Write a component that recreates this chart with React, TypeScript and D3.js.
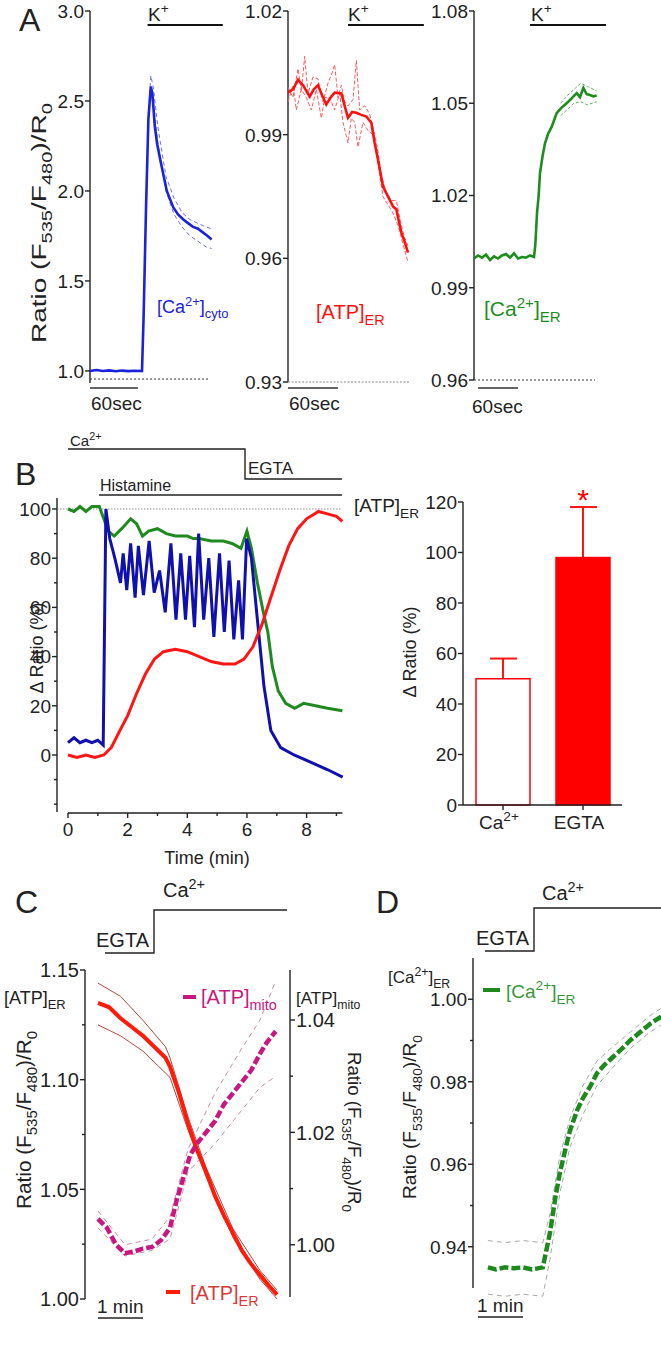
import React from 'react';
import * as d3 from 'd3';

type Pt = [number, number];

const FONT = '"Liberation Sans", Arial, sans-serif';

// ---------- A : K+ responses (time in s) ----------
const A1_TICKS = [1.0, 1.5, 2.0, 2.5, 3.0];
const A2_TICKS = [0.93, 0.96, 0.99, 1.02];
const A3_TICKS = [0.96, 0.99, 1.02, 1.05, 1.08];

const A_CYTO: Pt[] = [
  [0, 1.0], [8, 1.005], [16, 1.0], [24, 1.003], [32, 0.998], [40, 1.002], [48, 0.999], [56, 1.001],
  [65, 1.0], [67, 1.3], [70, 1.9], [73, 2.4], [76, 2.58], [78, 2.54], [81, 2.36], [84, 2.26],
  [88, 2.17], [96, 2.0], [104, 1.91], [110, 1.87], [117, 1.84], [123, 1.82], [129, 1.8],
  [135, 1.79], [141, 1.77], [147, 1.75], [152, 1.73],
];
const A_CYTO_HI: Pt[] = [
  [74, 2.5], [76, 2.64], [79, 2.58], [85, 2.35], [95, 2.08], [105, 1.96], [115, 1.88],
  [125, 1.84], [135, 1.82], [145, 1.8], [152, 1.79],
];
const A_CYTO_LO: Pt[] = [
  [76, 2.55], [80, 2.45], [85, 2.26], [95, 2.0], [105, 1.87], [115, 1.8], [125, 1.75],
  [135, 1.72], [145, 1.69], [152, 1.68],
];

const A_ATP: Pt[] = [
  [0, 1.0002], [6, 1.001], [12, 1.0033], [18, 1.002], [26, 0.9992], [31, 1.001], [36, 1.002],
  [41, 0.9995], [46, 0.9973], [51, 0.999], [56, 1.0002], [64, 1.0], [68, 0.997], [72, 0.9941],
  [77, 0.9955], [82, 0.9953], [88, 0.9948], [94, 0.9944], [100, 0.9929], [104, 0.988],
  [108, 0.984], [114, 0.9774], [120, 0.975], [126, 0.9726], [130, 0.9719], [133, 0.969],
  [136, 0.9663], [140, 0.964], [144, 0.9614],
];
const A_ATP_HI: Pt[] = [
  [0, 1.0015], [6, 0.999], [12, 1.006], [16, 1.0005], [20, 1.009], [24, 1.0], [30, 1.004],
  [36, 1.0035], [42, 0.998], [48, 1.0025], [52, 1.0045], [56, 1.007], [60, 0.999], [64, 1.002],
  [68, 0.998], [72, 0.997], [78, 0.9985], [82, 1.008], [86, 0.996], [92, 0.997], [98, 0.995],
  [104, 0.99], [108, 0.986], [112, 0.98], [118, 0.976], [124, 0.974], [130, 0.974],
  [136, 0.968], [140, 0.965], [144, 0.963],
];
const A_ATP_LO: Pt[] = [
  [0, 0.998], [6, 1.002], [10, 0.996], [16, 1.001], [22, 0.999], [28, 0.996], [34, 1.001],
  [40, 0.994], [44, 0.999], [50, 0.999], [56, 0.996], [62, 1.0], [66, 0.993], [72, 0.988],
  [76, 0.994], [80, 0.993], [84, 0.987], [90, 0.993], [96, 0.991], [102, 0.99], [108, 0.983],
  [114, 0.975], [120, 0.973], [126, 0.971], [132, 0.968], [136, 0.965], [140, 0.962], [144, 0.959],
];

const A_CAER: Pt[] = [
  [0, 0.9995], [6, 1.0005], [12, 0.9998], [18, 1.0008], [24, 0.999], [30, 1.0002], [36, 0.9995],
  [42, 1.0005], [48, 1.001], [54, 0.9998], [60, 1.0012], [66, 0.9995], [72, 1.0], [78, 0.9998],
  [84, 1.0005], [90, 1.0], [92, 1.004], [94.5, 1.0143], [97, 1.02], [99, 1.0273], [103, 1.033],
  [106.5, 1.037], [111, 1.04], [116.5, 1.0423], [124, 1.0468], [131, 1.0485], [139, 1.05],
  [146, 1.0515], [154, 1.0533], [159, 1.052], [164, 1.055], [169, 1.053], [174, 1.0527],
  [179, 1.0522], [184, 1.0525],
];
const A_CAER_HI: Pt[] = [[130, 1.05], [140, 1.0525], [150, 1.0545], [160, 1.0565], [170, 1.0555], [184, 1.054]];
const A_CAER_LO: Pt[] = [[130, 1.046], [140, 1.048], [150, 1.05], [160, 1.0505], [170, 1.0495], [184, 1.0505]];

// ---------- B : histamine / EGTA (time in min, %) ----------
const B_TIME_TICKS = [0, 2, 4, 6, 8];
const B_TIME_MINOR = [1, 3, 5, 7, 9];
const B_Y_TICKS = [0, 20, 40, 60, 80, 100];
const B_Y_MINOR = [-20, -10, 10, 30, 50, 70, 90];

const B_CAER: Pt[] = [
  [0, 100], [0.2, 99], [0.4, 101], [0.6, 99], [0.8, 101], [1.05, 101], [1.2, 96], [1.35, 91],
  [1.55, 89], [1.8, 92], [2.1, 96], [2.3, 94], [2.5, 89], [2.7, 91], [3.0, 92], [3.3, 90],
  [3.6, 89], [4.0, 89], [4.2, 88], [4.4, 88], [4.8, 87], [5.2, 87], [5.5, 86], [5.8, 84],
  [6.0, 91], [6.15, 84], [6.35, 70], [6.55, 58], [6.7, 50], [6.85, 36], [7.05, 26], [7.3, 21],
  [7.6, 19], [7.9, 21], [8.3, 20], [8.7, 19], [9.2, 18],
];
const B_CYTO: Pt[] = [
  [0, 5], [0.2, 7], [0.4, 5], [0.6, 6], [0.8, 5], [1.0, 6], [1.18, 4], [1.27, 100], [1.4, 88],
  [1.57, 80], [1.76, 70], [1.85, 82], [1.97, 67], [2.1, 86], [2.25, 64], [2.36, 85], [2.53, 65],
  [2.72, 87], [2.89, 66], [3.07, 75], [3.26, 58], [3.45, 86], [3.62, 55], [3.78, 82], [3.94, 55],
  [4.08, 81], [4.24, 52], [4.38, 90], [4.55, 55], [4.72, 80], [4.89, 48], [5.08, 82], [5.24, 50],
  [5.4, 79], [5.56, 47], [5.72, 71], [5.85, 47], [5.99, 88], [6.15, 80], [6.35, 55], [6.57, 28],
  [6.8, 10], [7.13, 3], [7.58, 0], [8.15, -3], [8.71, -6], [9.21, -9],
];
const B_ATP: Pt[] = [
  [0, 0], [0.3, -1], [0.6, 0], [0.9, -1], [1.2, 0], [1.45, 3], [1.7, 9], [2.0, 16], [2.3, 25],
  [2.6, 33], [2.9, 39], [3.2, 42], [3.6, 43], [4.0, 42], [4.4, 40], [4.8, 38], [5.2, 37],
  [5.6, 37], [5.9, 39], [6.2, 44], [6.5, 53], [6.8, 64], [7.1, 75], [7.4, 85], [7.7, 92],
  [8.0, 96], [8.4, 99], [8.7, 98], [9.0, 97], [9.2, 95],
];

const BAR_CATS = ['Ca2+', 'EGTA'];
const BAR_MEAN = [50, 98];
const BAR_SEM = [8, 20];
const BAR_TICKS = [0, 20, 40, 60, 80, 100, 120];

// ---------- C : ATP ER / mito (time in min) ----------
const C_LEFT_TICKS = [1.0, 1.05, 1.1, 1.15];
const C_LEFT_MINOR = [1.025, 1.075, 1.125];
const C_RIGHT_TICKS = [1.0, 1.02, 1.04];
const C_RIGHT_MINOR = [1.01, 1.03];

const C_ER: Pt[] = [
  [0, 1.135], [0.25, 1.133], [0.5, 1.128], [0.75, 1.124], [1.0, 1.12], [1.25, 1.115], [1.5, 1.11],
  [1.6, 1.106], [1.8, 1.094], [2.0, 1.08], [2.2, 1.068], [2.4, 1.058], [2.6, 1.047], [2.8, 1.038],
  [3.0, 1.03], [3.2, 1.022], [3.4, 1.016], [3.6, 1.011], [3.8, 1.006], [3.98, 1.002],
];
const C_ER_HI: Pt[] = [
  [0, 1.144], [0.5, 1.138], [1.0, 1.127], [1.5, 1.115], [1.6, 1.11], [2.0, 1.083], [2.4, 1.06],
  [3.0, 1.032], [3.6, 1.013], [3.98, 1.004],
];
const C_ER_LO: Pt[] = [
  [0, 1.125], [0.5, 1.12], [1.0, 1.113], [1.5, 1.103], [1.6, 1.101], [2.0, 1.077], [2.4, 1.056],
  [3.0, 1.028], [3.6, 1.009], [3.98, 1.0],
];
const C_MITO: Pt[] = [
  [0, 1.0046], [0.2, 1.003], [0.4, 1.0], [0.6, 0.9985], [0.8, 0.9988], [1.0, 0.9993], [1.2, 0.9996],
  [1.4, 1.0008], [1.6, 1.003], [1.75, 1.008], [1.9, 1.012], [2.05, 1.016], [2.2, 1.018], [2.4, 1.02],
  [2.6, 1.022], [2.8, 1.025], [3.0, 1.027], [3.2, 1.029], [3.4, 1.031], [3.6, 1.034], [3.75, 1.036],
  [3.95, 1.038],
];
const C_MITO_HI: Pt[] = [
  [0, 1.006], [0.6, 1.0], [1.2, 1.001], [1.6, 1.005], [2.0, 1.017], [2.6, 1.027], [3.2, 1.035],
  [3.6, 1.04], [3.95, 1.047],
];
const C_MITO_LO: Pt[] = [
  [0, 1.003], [0.6, 0.998], [1.2, 0.999], [1.6, 1.001], [2.0, 1.013], [2.6, 1.018], [3.2, 1.024],
  [3.6, 1.028], [3.95, 1.03],
];

// ---------- D : Ca ER refilling (time in min) ----------
const D_TICKS = [0.94, 0.96, 0.98, 1.0];
const D_MINOR = [0.95, 0.97, 0.99];
const D_CAER: Pt[] = [
  [0.22, 0.935], [0.4, 0.9345], [0.6, 0.935], [0.8, 0.9348], [1.0, 0.935], [1.2, 0.9345],
  [1.44, 0.935], [1.6, 0.9434], [1.72, 0.952], [1.82, 0.958], [1.95, 0.964], [2.04, 0.968],
  [2.2, 0.973], [2.33, 0.976], [2.5, 0.979], [2.64, 0.982], [2.8, 0.984], [3.0, 0.986],
  [3.2, 0.988], [3.38, 0.99], [3.6, 0.992], [3.82, 0.994], [4.1, 0.996],
];
const D_HI: Pt[] = [
  [0.22, 0.9415], [0.6, 0.941], [1.0, 0.9415], [1.44, 0.941], [1.6, 0.948], [1.82, 0.962],
  [2.04, 0.971], [2.33, 0.979], [2.64, 0.985], [3.0, 0.9885], [3.38, 0.992], [3.82, 0.996], [4.1, 0.998],
];
const D_LO: Pt[] = [
  [0.22, 0.9285], [0.6, 0.928], [1.0, 0.9285], [1.44, 0.928], [1.6, 0.937], [1.82, 0.953],
  [2.04, 0.964], [2.33, 0.972], [2.64, 0.979], [3.0, 0.9835], [3.38, 0.988], [3.82, 0.992], [4.1, 0.994],
];

// ---------- helpers ----------
type Part = string | { sub: string } | { sup: string };

function rich(parts: Part[], size: number) {
  let shift = 0;
  return parts.map((p, i) => {
    if (typeof p === 'string') {
      const el = <tspan key={i} dy={-shift} fontSize={size}>{p}</tspan>;
      shift = 0;
      return el;
    }
    const d = 'sub' in p ? size * 0.3 : -size * 0.4;
    const el = <tspan key={i} dy={d - shift} fontSize={size * 0.72}>{'sub' in p ? p.sub : p.sup}</tspan>;
    shift = d;
    return el;
  });
}

const RATIO: Part[] = ['Ratio (F', { sub: '535' }, '/F', { sub: '480' }, ')/R', { sub: '0' }];

// rotated axis title, stretched along its length like the source figure
function RatioLabel({ x, y, size, len, rot = -90 }: { x: number; y: number; size: number; len: number; rot?: number }) {
  return (
    <text transform={`translate(${x},${y}) rotate(${rot})`} textAnchor="middle" fontSize={size}
      textLength={len} lengthAdjust="spacingAndGlyphs">{rich(RATIO, size)}</text>
  );
}

function YAxis(props: {
  y: d3.ScaleLinear<number, number>; x: number; ticks: number[]; minor?: number[];
  fmt: (v: number) => string; side?: 'left' | 'right'; size?: number; extent?: [number, number];
}) {
  const { y, x, ticks, minor = [], fmt, side = 'left', size = 19 } = props;
  const [r0, r1] = props.extent ?? (y.range() as [number, number]);
  const dir = side === 'left' ? -1 : 1;
  return (
    <g stroke="#222" strokeWidth={1.4}>
      <line x1={x} x2={x} y1={r0} y2={r1} />
      {ticks.map(t => (
        <g key={t}>
          <line x1={x} x2={x + dir * 5} y1={y(t)} y2={y(t)} />
          <text x={x + dir * 6} y={y(t)} dy="0.36em" stroke="none" fill="#222" fontSize={size}
            textAnchor={side === 'left' ? 'end' : 'start'}>{fmt(t)}</text>
        </g>
      ))}
      {minor.map(t => <line key={'m' + t} x1={x} x2={x + dir * 3} y1={y(t)} y2={y(t)} />)}
    </g>
  );
}

function mkLine(x: d3.ScaleLinear<number, number>, y: d3.ScaleLinear<number, number>) {
  return d3.line<Pt>().x(d => x(d[0])).y(d => y(d[1]));
}

const f1 = d3.format('.1f');
const f2 = d3.format('.2f');
const f0 = d3.format('d');

export default function App() {
  // A1
  const xA1 = d3.scaleLinear().domain([0, 60]).range([90, 138]);
  const yA1 = d3.scaleLinear().domain([0.933, 3.0]).range([383, 11]);
  const lA1 = mkLine(xA1, yA1);
  // A2
  const xA2 = d3.scaleLinear().domain([0, 60]).range([288, 338]);
  const yA2 = d3.scaleLinear().domain([0.93, 1.02]).range([382, 11]);
  const lA2 = mkLine(xA2, yA2);
  // A3
  const xA3 = d3.scaleLinear().domain([0, 60]).range([474, 514]);
  const yA3 = d3.scaleLinear().domain([0.96, 1.08]).range([380, 11]);
  const lA3 = mkLine(xA3, yA3);
  // B traces
  const xB = d3.scaleLinear().domain([0, 9.2]).range([68, 342.4]);
  const yB = d3.scaleLinear().domain([0, 100]).range([755, 509]);
  const lB = mkLine(xB, yB);
  // B bars
  const xBar = d3.scaleBand<string>().domain(BAR_CATS).range([463, 623]).paddingInner(0.325).paddingOuter(0.1625);
  const yBar = d3.scaleLinear().domain([0, 120]).range([805, 502]);
  // C
  const xC = d3.scaleLinear().domain([0, 1]).range([98, 143]);
  const yCL = d3.scaleLinear().domain([1.0, 1.15]).range([1299, 970]);
  const yCR = d3.scaleLinear().domain([0.9907, 1.0489]).range([1297, 970]);
  const lCL = mkLine(xC, yCL);
  const lCR = mkLine(xC, yCR);
  // D
  const xD = d3.scaleLinear().domain([0, 1]).range([478, 523]);
  const yD = d3.scaleLinear().domain([0.93, 1.01]).range([1288, 958]);
  const lD = mkLine(xD, yD);

  const blueA = '#1b22dc';
  const redA = '#ff1010';
  const greenA = '#1f8c1f';
  const blueB = '#1010b0';
  const greenB = '#208a20';
  const redB = '#ff1515';
  const mag = '#c8177e';

  return (
    <svg width={661} height={1362} style={{ position: 'absolute', left: 0, top: 0, background: '#fff' }}
      fontFamily={FONT} fill="#222">
      {/* ================= A ================= */}
      <text x={19} y={31} fontSize={32}>A</text>
      <RatioLabel x={46} y={223} size={21} len={240} />

      {/* A1 */}
      <YAxis y={yA1} x={90} ticks={A1_TICKS} fmt={f1} />
      <line x1={90} x2={210} y1={yA1(0.955)} y2={yA1(0.955)} stroke="#333" strokeDasharray="2 2" />
      <line x1={xA1(72)} x2={xA1(166)} y1={25} y2={25} stroke="#111" strokeWidth={2} />
      <text x={148} y={21} fontSize={19}>{rich(['K', { sup: '+' }], 19)}</text>
      <line x1={xA1(0)} x2={xA1(60)} y1={388} y2={388} stroke="#333" strokeWidth={1.5} />
      <text x={91} y={410} fontSize={19}>60sec</text>
      <path d={lA1(A_CYTO_HI)!} fill="none" stroke="#7070e6" strokeWidth={1} strokeDasharray="4 3" />
      <path d={lA1(A_CYTO_LO)!} fill="none" stroke="#7070e6" strokeWidth={1} strokeDasharray="4 3" />
      <path d={lA1(A_CYTO)!} fill="none" stroke={blueA} strokeWidth={2.6} />
      <text x={157} y={313} fontSize={18} fill={blueA}>{rich(['[Ca', { sup: '2+' }, ']', { sub: 'cyto' }], 18)}</text>

      {/* A2 */}
      <YAxis y={yA2} x={288} ticks={A2_TICKS} fmt={f2} />
      <line x1={288} x2={410} y1={yA2(0.93)} y2={yA2(0.93)} stroke="#888" strokeDasharray="2 1.5" />
      <line x1={xA2(72)} x2={xA2(163)} y1={25} y2={25} stroke="#111" strokeWidth={2} />
      <text x={348} y={21} fontSize={19}>{rich(['K', { sup: '+' }], 19)}</text>
      <line x1={xA2(0)} x2={xA2(60)} y1={388} y2={388} stroke="#333" strokeWidth={1.5} />
      <text x={289} y={410} fontSize={19}>60sec</text>
      <path d={lA2(A_ATP_HI)!} fill="none" stroke="#ff5a5a" strokeWidth={1} strokeDasharray="4 2" />
      <path d={lA2(A_ATP_LO)!} fill="none" stroke="#ff5a5a" strokeWidth={1} strokeDasharray="4 2" />
      <path d={lA2(A_ATP)!} fill="none" stroke={redA} strokeWidth={2.6} />
      <text x={316} y={319} fontSize={20} fill={redA}>{rich(['[ATP]', { sub: 'ER' }], 20)}</text>

      {/* A3 */}
      <YAxis y={yA3} x={474} ticks={A3_TICKS} fmt={f2} />
      <line x1={474} x2={595} y1={yA3(0.96)} y2={yA3(0.96)} stroke="#333" strokeDasharray="2 2" />
      <line x1={xA3(84)} x2={xA3(198)} y1={25} y2={25} stroke="#111" strokeWidth={2} />
      <text x={531} y={21} fontSize={19}>{rich(['K', { sup: '+' }], 19)}</text>
      <line x1={478} x2={518} y1={388} y2={388} stroke="#333" strokeWidth={1.5} />
      <text x={472} y={413} fontSize={19}>60sec</text>
      <path d={lA3(A_CAER_HI)!} fill="none" stroke="#5fb05f" strokeWidth={1} strokeDasharray="3 2" />
      <path d={lA3(A_CAER_LO)!} fill="none" stroke="#5fb05f" strokeWidth={1} strokeDasharray="3 2" />
      <path d={lA3(A_CAER)!} fill="none" stroke={greenA} strokeWidth={2.6} />
      <text x={484} y={316} fontSize={21} fill={greenA}>{rich(['[Ca', { sup: '2+' }, ']', { sub: 'ER' }], 21)}</text>

      {/* ================= B ================= */}
      <text x={15} y={485} fontSize={32}>B</text>
      <text x={70} y={446} fontSize={15}>{rich(['Ca', { sup: '2+' }], 15)}</text>
      <path d="M68,449 H245 V479 H342" fill="none" stroke="#222" strokeWidth={1.4} />
      <text x={248} y={474} fontSize={17}>EGTA</text>
      <text x={100} y={491} fontSize={16}>Histamine</text>
      <line x1={99} x2={342} y1={495} y2={495} stroke="#222" strokeWidth={1.6} />

      <YAxis y={yB} x={57} ticks={B_Y_TICKS} minor={B_Y_MINOR} fmt={f0} extent={[812, 498]} />
      <g stroke="#222" strokeWidth={1.4}>
        <line x1={68} x2={342.4} y1={813} y2={813} />
        {B_TIME_TICKS.map(t => <line key={t} x1={xB(t)} x2={xB(t)} y1={813} y2={818} />)}
        {B_TIME_MINOR.map(t => <line key={t} x1={xB(t)} x2={xB(t)} y1={813} y2={816} />)}
      </g>
      {B_TIME_TICKS.map(t => (
        <text key={t} x={xB(t)} y={836} fontSize={19} textAnchor="middle">{t}</text>
      ))}
      <text x={207} y={864} fontSize={18} textAnchor="middle">Time (min)</text>
      <text transform="translate(43,648) rotate(-90)" textAnchor="middle" fontSize={18}>Δ Ratio (%)</text>
      <line x1={57} x2={342} y1={yB(100)} y2={yB(100)} stroke="#777" strokeWidth={0.8} strokeDasharray="1.5 1.5" />
      <path d={lB(B_CAER)!} fill="none" stroke={greenB} strokeWidth={3} />
      <path d={lB(B_CYTO)!} fill="none" stroke={blueB} strokeWidth={3} />
      <path d={lB(B_ATP)!} fill="none" stroke={redB} strokeWidth={3} />

      {/* B bars */}
      <text x={354} y={512} fontSize={19}>{rich(['[ATP]', { sub: 'ER' }], 19)}</text>
      <YAxis y={yBar} x={463} ticks={BAR_TICKS} fmt={f0} />
      <text transform="translate(416,652) rotate(-90)" textAnchor="middle" fontSize={18}>Δ Ratio (%)</text>
      {BAR_CATS.map((c, i) => {
        const x0 = xBar(c)!;
        const w = xBar.bandwidth();
        const cx = x0 + w / 2;
        return (
          <g key={c}>
            <line x1={cx} x2={cx} y1={yBar(BAR_MEAN[i])} y2={yBar(BAR_MEAN[i] + BAR_SEM[i])} stroke={redB} strokeWidth={2} />
            <line x1={cx - 13} x2={cx + 14} y1={yBar(BAR_MEAN[i] + BAR_SEM[i])} y2={yBar(BAR_MEAN[i] + BAR_SEM[i])} stroke={redB} strokeWidth={2} />
            <rect x={x0} y={yBar(BAR_MEAN[i])} width={w} height={yBar(0) - yBar(BAR_MEAN[i])}
              fill={i === 0 ? '#fff' : '#ff0000'} stroke="#ff0000" strokeWidth={1.5} />
            <line x1={cx} x2={cx} y1={805} y2={810} stroke="#222" strokeWidth={1.4} />
            <text x={cx - 4} y={829} fontSize={19} textAnchor="middle">
              {c === 'Ca2+' ? rich(['Ca', { sup: '2+' }], 19) : c}
            </text>
          </g>
        );
      })}
      <line x1={463} x2={622} y1={805} y2={805} stroke="#222" strokeWidth={1.4} />
      <text x={xBar('EGTA')! + xBar.bandwidth() / 2} y={510} fontSize={30} fill="#ff0000" textAnchor="middle">*</text>

      {/* ================= C ================= */}
      <text x={15} y={913} fontSize={32}>C</text>
      <text x={96} y={947} fontSize={20}>EGTA</text>
      <path d="M105,953 H154 V910 H287" fill="none" stroke="#222" strokeWidth={1.4} />
      <text x={163} y={897} fontSize={20}>{rich(['Ca', { sup: '2+' }], 20)}</text>
      <YAxis y={yCL} x={85} ticks={C_LEFT_TICKS} minor={C_LEFT_MINOR} fmt={f2} size={20} />
      <YAxis y={yCR} x={290} ticks={C_RIGHT_TICKS} minor={C_RIGHT_MINOR} fmt={f2} side="right" size={20} />
      <text x={4} y={1004} fontSize={18}>{rich(['[ATP]', { sub: 'ER' }], 18)}</text>
      <text x={296} y={1004} fontSize={17}>{rich(['[ATP]', { sub: 'mito' }], 17)}</text>
      <RatioLabel x={31} y={1120} size={20} len={178} />
      <RatioLabel x={348} y={1132} size={19} len={160} rot={90} />
      <line x1={xC(0)} x2={xC(1)} y1={1318} y2={1318} stroke="#222" strokeWidth={1.6} />
      <text x={97} y={1313} fontSize={19}>1 min</text>

      <path d={lCL(C_ER_HI)!} fill="none" stroke="#b5483c" strokeWidth={1} />
      <path d={lCL(C_ER_LO)!} fill="none" stroke="#b5483c" strokeWidth={1} />
      <path d={lCR(C_MITO_HI)!} fill="none" stroke="#c98fab" strokeWidth={1} strokeDasharray="5 4" />
      <path d={lCR(C_MITO_LO)!} fill="none" stroke="#c98fab" strokeWidth={1} strokeDasharray="5 4" />
      <path d={lCL(C_ER)!} fill="none" stroke="#ff1a0a" strokeWidth={4} />
      <path d={lCR(C_MITO)!} fill="none" stroke={mag} strokeWidth={4.5} strokeDasharray="8 3" />

      <line x1={183} x2={196} y1={997} y2={997} stroke={mag} strokeWidth={4} />
      <text x={201} y={1004} fontSize={20} fill={mag}>{rich(['[ATP]', { sub: 'mito' }], 20)}</text>
      <line x1={166} x2={180} y1={1292} y2={1292} stroke="#ff1a0a" strokeWidth={4} />
      <text x={190} y={1300} fontSize={20} fill="#d83a3a">{rich(['[ATP]', { sub: 'ER' }], 20)}</text>

      {/* ================= D ================= */}
      <text x={376} y={913} fontSize={32}>D</text>
      <text x={476} y={945} fontSize={20}>EGTA</text>
      <path d="M485,951 H534 V908 H661" fill="none" stroke="#222" strokeWidth={1.4} />
      <text x={542} y={900} fontSize={20}>{rich(['Ca', { sup: '2+' }], 20)}</text>
      <YAxis y={yD} x={473} ticks={D_TICKS} minor={D_MINOR} fmt={f2} />
      <text x={388} y={983} fontSize={17}>{rich(['[Ca', { sup: '2+' }, ']', { sub: 'ER' }], 17)}</text>
      <RatioLabel x={416} y={1117} size={19} len={164} />
      <line x1={xD(0)} x2={xD(1)} y1={1317} y2={1317} stroke="#222" strokeWidth={1.6} />
      <text x={477} y={1312} fontSize={19}>1 min</text>
      <path d={lD(D_HI)!} fill="none" stroke="#a8a8a8" strokeWidth={1} strokeDasharray="5 4" />
      <path d={lD(D_LO)!} fill="none" stroke="#a8a8a8" strokeWidth={1} strokeDasharray="5 4" />
      <path d={lD(D_CAER)!} fill="none" stroke="#1e8a1e" strokeWidth={4.5} strokeDasharray="9 3" />
      <line x1={483} x2={500} y1={990} y2={990} stroke="#1e8a1e" strokeWidth={4} />
      <text x={506} y={998} fontSize={19} fill="#3a963a">{rich(['[Ca', { sup: '2+' }, ']', { sub: 'ER' }], 19)}</text>
    </svg>
  );
}
